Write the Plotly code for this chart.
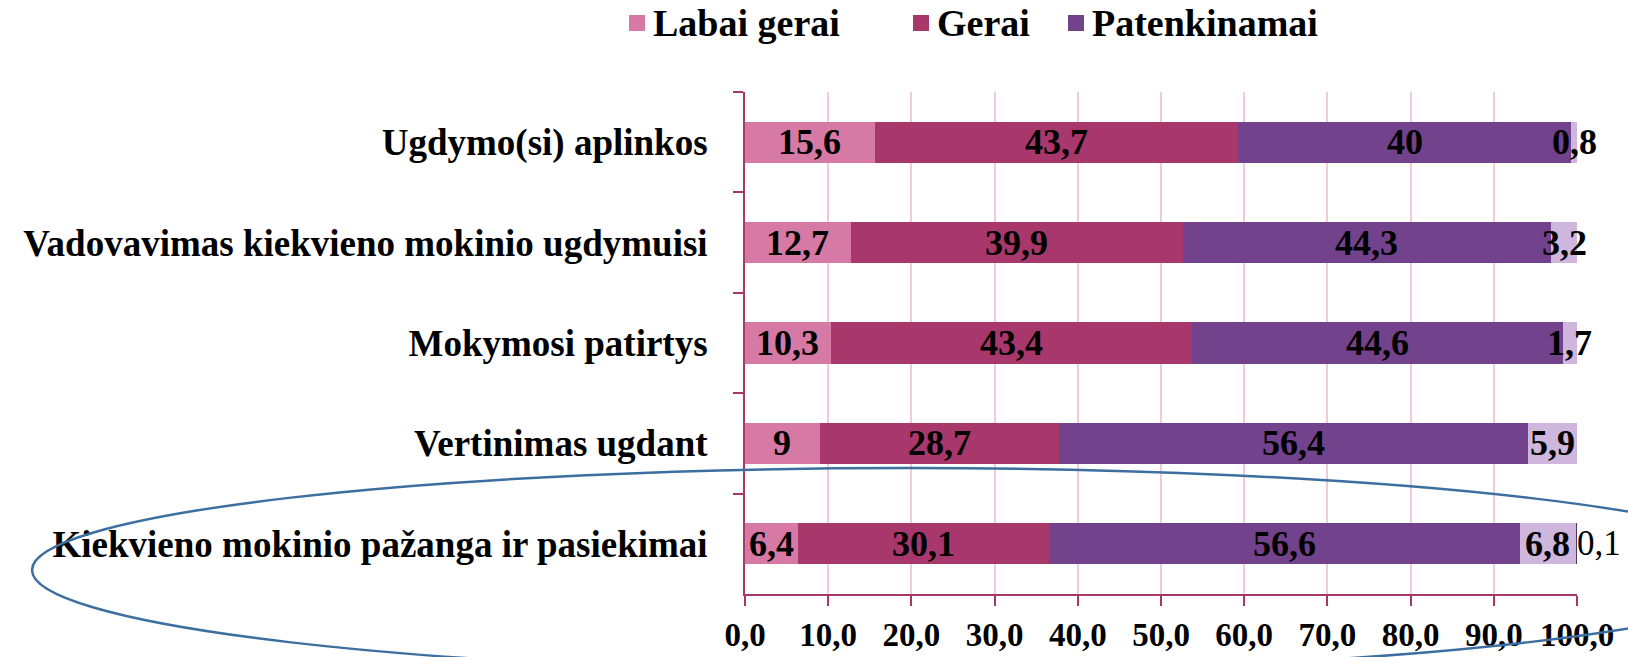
import plotly.graph_objects as go

# ---------------- data ----------------
categories = [
    "Ugdymo(si) aplinkos",
    "Vadovavimas kiekvieno mokinio ugdymuisi",
    "Mokymosi patirtys",
    "Vertinimas ugdant",
    "Kiekvieno mokinio pažanga ir pasiekimai",
]
series_names = ["Labai gerai", "Gerai", "Patenkinamai", "Nepatenkinamai", "Kita"]
labai_gerai = [15.6, 12.7, 10.3, 9, 6.4]
gerai = [43.7, 39.9, 43.4, 28.7, 30.1]
patenkinamai = [40, 44.3, 44.6, 56.4, 56.6]
nepatenkinamai = [0.8, 3.2, 1.7, 5.9, 6.8]
kita = [None, None, None, None, 0.1]
x_ticks = [0, 10, 20, 30, 40, 50, 60, 70, 80, 90, 100]
x_ticktext = ["0,0", "10,0", "20,0", "30,0", "40,0", "50,0", "60,0", "70,0", "80,0", "90,0", "100,0"]

# ---------------- style ----------------
colors = ["#D779A5", "#A8376B", "#73428C", "#CEB6DC", "#4A3A5E"]
AXIS_COLOR = "#A6386C"
GRID_COLOR = "#F1CADD"
FONT = "Liberation Serif"

W, H = 1628, 657
L, R, T, B = 745, 51, 92, 63
PW, PH = W - L - R, H - T - B


def px_x(px):
    return (px - L) / PW


def px_y(py):
    return (H - B - py) / PH


def fmt(v):
    return f"{v:g}".replace(".", ",")


fig = go.Figure()
all_series = [labai_gerai, gerai, patenkinamai, nepatenkinamai, kita]
for i, (name, vals) in enumerate(zip(series_names, all_series)):
    fig.add_trace(go.Bar(
        y=categories,
        x=vals,
        name=name,
        orientation="h",
        marker=dict(color=colors[i], line=dict(width=0)),
        showlegend=False,
        hoverinfo="x+name",
    ))

# ---------------- data labels (positions derived from the data) ----------------
cum = [0.0] * len(categories)
for i, vals in enumerate(all_series):
    for j, v in enumerate(vals):
        if v is None:
            continue
        start = cum[j]
        end = round(start + v, 6)
        cum[j] = end
        if i < 4:
            fig.add_annotation(
                xref="x", yref="y", x=round(start + v / 2, 6), y=categories[j],
                text=fmt(v), showarrow=False, xanchor="center", yanchor="middle",
                font=dict(family=FONT, size=36, color="black", weight="bold"),
            )
        else:
            fig.add_annotation(
                xref="x", yref="y", x=min(end, 100), y=categories[j],
                text=fmt(v), showarrow=False, xanchor="left", yanchor="middle",
                xshift=-2,
                font=dict(family=FONT, size=35, color="black", weight="normal"),
            )

# ---------------- manual legend ----------------
legend_items = [
    (series_names[0], colors[0], 629),
    (series_names[1], colors[1], 913),
    (series_names[2], colors[2], 1068),
]
LEG_Y = 23
SQ = 16
for name, col, x0 in legend_items:
    fig.add_shape(type="rect", xref="paper", yref="paper",
                  x0=px_x(x0), x1=px_x(x0 + SQ),
                  y0=px_y(LEG_Y + SQ / 2), y1=px_y(LEG_Y - SQ / 2),
                  fillcolor=col, line=dict(width=0), layer="above")
    fig.add_annotation(xref="paper", yref="paper", x=px_x(x0 + SQ + 6), y=px_y(LEG_Y),
                       text=name, showarrow=False, xanchor="left", yanchor="middle",
                       font=dict(family=FONT, size=38, color="black", weight="bold"))

# ---------------- ellipse annotation ----------------
fig.add_shape(type="circle", xref="paper", yref="paper",
              x0=px_x(32), x1=px_x(1786), y0=px_y(672), y1=px_y(468),
              line=dict(color="#3C6E9F", width=2.5), fillcolor="rgba(0,0,0,0)",
              layer="above")

fig.update_layout(
    width=W, height=H,
    margin=dict(l=L, r=R, t=T, b=B, pad=0, autoexpand=False),
    barmode="stack",
    bargap=0.59,
    plot_bgcolor="white",
    paper_bgcolor="white",
    font=dict(family=FONT, size=36, color="black", weight="bold"),
    showlegend=False,
    xaxis=dict(
        range=[0, 100],
        tickvals=x_ticks,
        ticktext=x_ticktext,
        showgrid=True, gridcolor=GRID_COLOR, gridwidth=2,
        showline=True, linecolor=AXIS_COLOR, linewidth=2,
        ticks="outside", ticklen=10, tickwidth=2, tickcolor=AXIS_COLOR,
        tickfont=dict(family=FONT, size=33, color="black", weight="bold"),
        ticklabelstandoff=0,
        zeroline=False,
        automargin=False,
        fixedrange=True,
    ),
    yaxis=dict(
        categoryorder="array",
        categoryarray=categories,
        autorange="reversed",
        showgrid=False,
        showline=True, linecolor=AXIS_COLOR, linewidth=2,
        ticks="outside", ticklen=10, tickwidth=2, tickcolor=AXIS_COLOR,
        tickson="boundaries",
        tickfont=dict(family=FONT, size=37, color="black", weight="bold"),
        ticklabelstandoff=28,
        automargin=False,
        fixedrange=True,
    ),
)

fig.write_html(
    "out.html",
    config={"displayModeBar": False},
    post_script="document.body.style.margin='0px';document.body.style.overflow='hidden';",
)
